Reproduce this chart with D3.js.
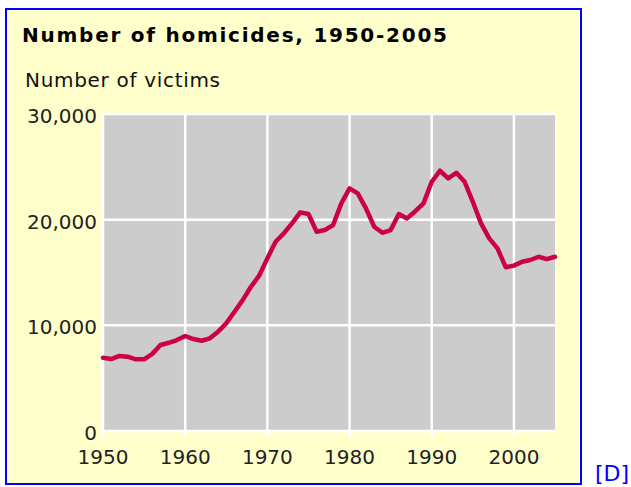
<!DOCTYPE html>
<html>
<head>
<meta charset="utf-8">
<script src="https://cdn.jsdelivr.net/npm/d3@7/dist/d3.min.js"></script>
<style>
  body { margin: 0; background: #fff; }
  svg text { font-family: "DejaVu Sans", Verdana, sans-serif; }
</style>
</head>
<body>
<svg id="chart" width="631" height="487"></svg>
<script>
const years = [1950, 1951, 1952, 1953, 1954, 1955, 1956, 1957, 1958, 1959,
    1960, 1961, 1962, 1963, 1964, 1965, 1966, 1967, 1968, 1969,
    1970, 1971, 1972, 1973, 1974, 1975, 1976, 1977, 1978, 1979,
    1980, 1981, 1982, 1983, 1984, 1985, 1986, 1987, 1988, 1989,
    1990, 1991, 1992, 1993, 1994, 1995, 1996, 1997, 1998, 1999,
    2000, 2001, 2002, 2003, 2004, 2005];
const victims = [6935, 6810, 7100, 7030, 6780, 6780, 7300, 8140, 8350, 8610,
    8990, 8700, 8540, 8770, 9400, 10190, 11290, 12390, 13650, 14700,
    16340, 17910, 18700, 19650, 20690, 20530, 18860, 19020, 19490, 21540,
    22960, 22490, 21070, 19330, 18760, 19020, 20530, 20120, 20800, 21540,
    23590, 24630, 23910, 24440, 23590, 21690, 19650, 18230, 17280, 15500,
    15650, 16020, 16180, 16490, 16270, 16490];
const xTicks = [1950, 1960, 1970, 1980, 1990, 2000];
const yTicks = [0, 10000, 20000, 30000];
const title = 'Number of homicides, 1950-2005';
const yTitle = 'Number of victims';

const svg = d3.select('#chart');

// frame
svg.append('rect')
    .attr('x', 6).attr('y', 9)
    .attr('width', 575).attr('height', 475)
    .attr('fill', '#ffffcc')
    .attr('stroke', '#0000ff')
    .attr('stroke-width', 2);

svg.append('text')
    .attr('x', 22).attr('y', 42)
    .attr('font-size', 20)
    .attr('font-weight', 'bold')
    .attr('textLength', 425)
    .attr('lengthAdjust', 'spacing')
    .attr('fill', '#000')
    .text(title);

svg.append('text')
    .attr('x', 25).attr('y', 87)
    .attr('font-size', 20)
    .attr('textLength', 195)
    .attr('lengthAdjust', 'spacing')
    .attr('fill', '#111')
    .text(yTitle);

const x = d3.scaleLinear().domain([1950, 2005]).range([103, 555]);
const y = d3.scaleLinear().domain([0, 30000]).range([431, 114]);

// plot background
svg.append('rect')
    .attr('x', x(1950)).attr('y', y(30000))
    .attr('width', x(2005) - x(1950))
    .attr('height', y(0) - y(30000))
    .attr('fill', '#cccccc');

// grid
svg.append('g')
    .selectAll('line')
    .data(yTicks)
    .join('line')
    .attr('x1', x(1950)).attr('x2', x(2005))
    .attr('y1', d => y(d)).attr('y2', d => y(d))
    .attr('stroke', '#fff')
    .attr('stroke-width', 2.5);

svg.append('g')
    .selectAll('line')
    .data(xTicks)
    .join('line')
    .attr('x1', d => x(d)).attr('x2', d => x(d))
    .attr('y1', y(30000)).attr('y2', y(0) + 6)
    .attr('stroke', '#fff')
    .attr('stroke-width', 2.5);

// tick labels
const fmt = d3.format(',');
svg.append('g')
    .selectAll('text')
    .data(yTicks)
    .join('text')
    .attr('x', 97)
    .attr('y', d => y(d) + 9)
    .attr('text-anchor', 'end')
    .attr('font-size', 20)
    .attr('fill', '#222')
    .text(d => fmt(d));

svg.append('g')
    .selectAll('text')
    .data(xTicks)
    .join('text')
    .attr('x', d => x(d))
    .attr('y', 464)
    .attr('text-anchor', 'middle')
    .attr('font-size', 20)
    .attr('fill', '#222')
    .text(d => d);

// series
const line = d3.line()
    .x((d, i) => x(years[i]))
    .y(d => y(d));

svg.append('path')
    .datum(victims)
    .attr('d', line)
    .attr('fill', 'none')
    .attr('stroke', '#cc0044')
    .attr('stroke-width', 4.5)
    .attr('stroke-linejoin', 'round')
    .attr('stroke-linecap', 'round');

// source link marker
svg.append('text')
    .attr('x', 595).attr('y', 481)
    .attr('font-size', 22)
    .attr('fill', '#0000ff')
    .text('[D]');
</script>
</body>
</html>
